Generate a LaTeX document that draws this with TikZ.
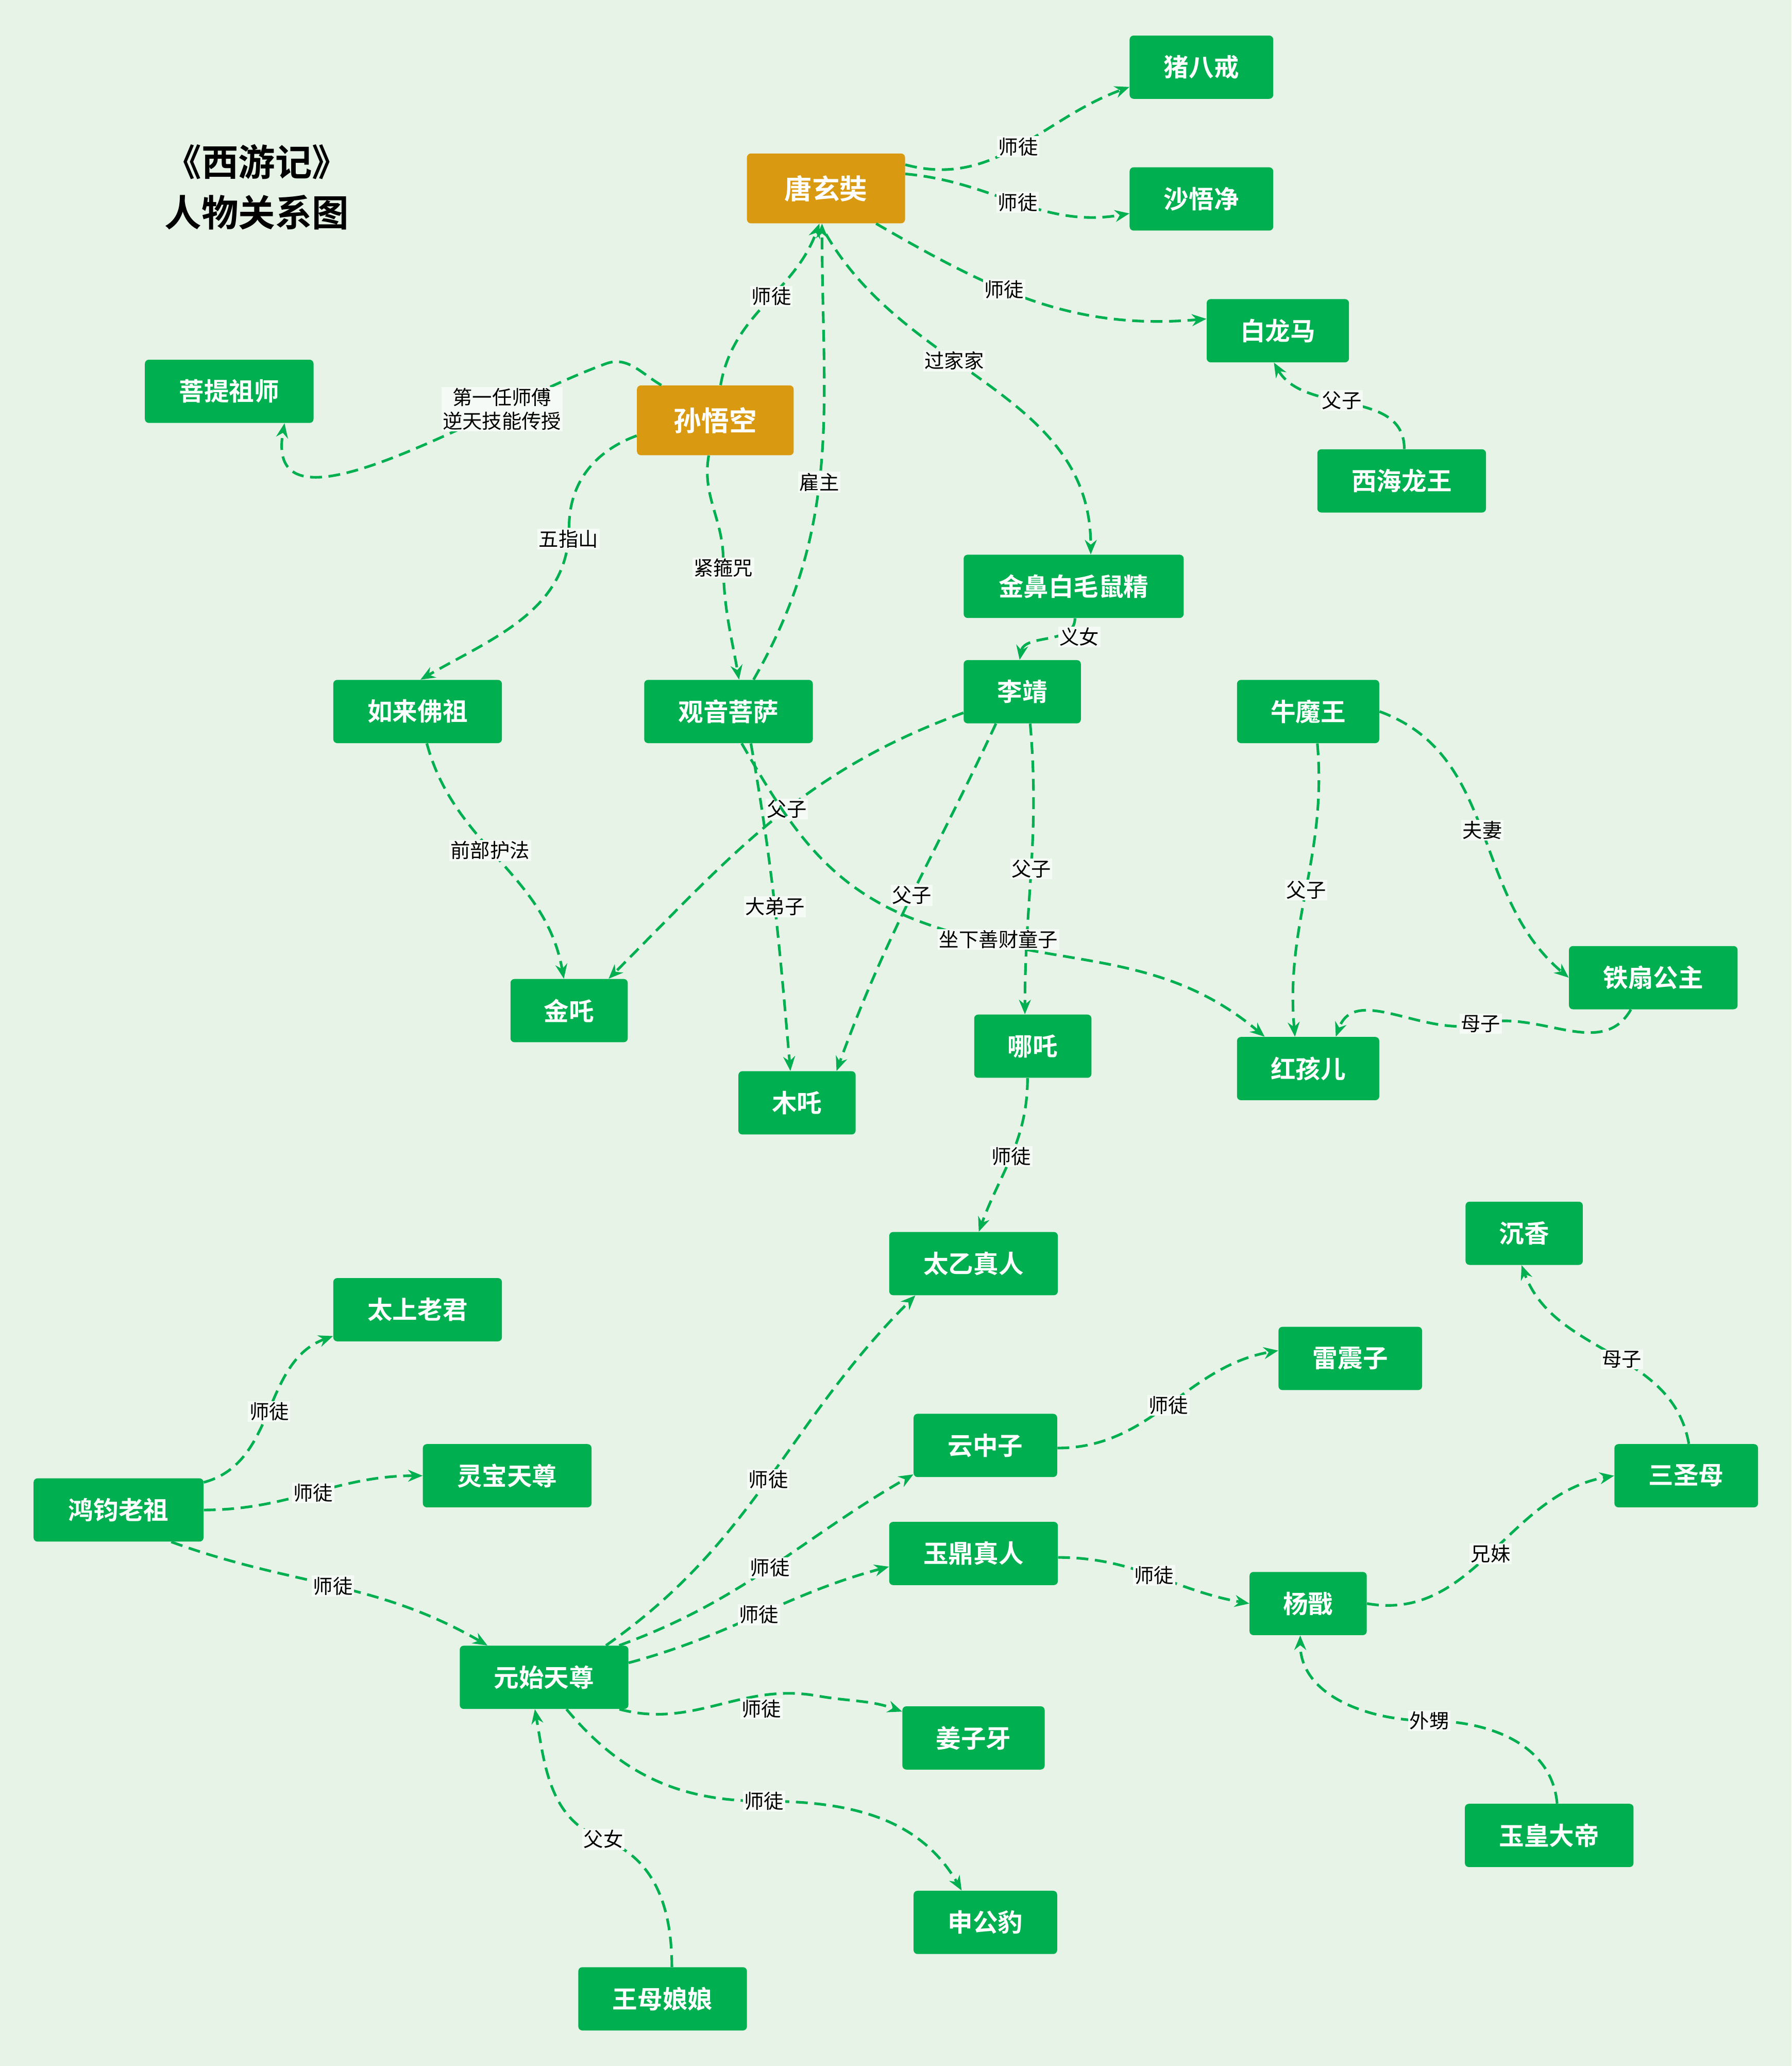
\documentclass[tikz,border=0pt]{standalone}
\usepackage{fontspec}
\newfontfamily\cjk{Noto Sans CJK SC}
\newfontfamily\cjkb{Noto Sans CJK SC Bold}
\usetikzlibrary{arrows.meta}
\definecolor{bg}{HTML}{E8F3E8}
\definecolor{gn}{HTML}{00B050}
\definecolor{og}{HTML}{D99A12}
\tikzset{
 gbox/.style={fill=gn,rounded corners=3pt,text=white,font=\cjkb\fontsize{19}{22}\selectfont,inner sep=0pt},
 obox/.style={fill=og,rounded corners=3pt,text=white,font=\cjkb\fontsize{21}{24}\selectfont,inner sep=0pt,minimum width=120,minimum height=53},
 rel/.style={draw=gn,line width=2pt,dash pattern=on 9pt off 5pt,-{Stealth[length=11pt,width=9pt]}},
 lab/.style={fill=bg!40!white,text=black,font=\cjk\fontsize{15}{18}\selectfont,inner sep=1pt}
}
\begin{document}
\begin{tikzpicture}[x=1pt,y=-1pt]
\fill[bg] (0,0) rectangle (1360,1568);
\useasboundingbox (0,0) rectangle (1360,1568);
\node[font=\cjkb\fontsize{28}{38}\selectfont,align=center] (title) at (195,142) {《西游记》\\人物关系图};
\def\gn#1#2#3#4{\node[gbox,minimum width=#3,minimum height=48] (#1) at #2 {#4};}
\node[obox] (ts) at (627,143) {唐玄奘};
\node[obox,minimum width=119] (sw) at (543,319) {孙悟空};
\gn{zb}{(912,51)}{109}{猪八戒}
\gn{sh}{(912,151)}{109}{沙悟净}
\gn{bl}{(970,251)}{108}{白龙马}
\gn{xh}{(1064,365)}{128}{西海龙王}
\gn{pt}{(174,297)}{128}{菩提祖师}
\gn{js}{(815,445)}{167}{金鼻白毛鼠精}
\gn{lj}{(776,525)}{89}{李靖}
\gn{rl}{(317,540)}{128}{如来佛祖}
\gn{gy}{(553,540)}{128}{观音菩萨}
\gn{nm}{(993,540)}{108}{牛魔王}
\gn{ts2}{(1255,742)}{128}{铁扇公主}
\gn{jz}{(432,767)}{89}{金吒}
\gn{mz}{(605,837)}{89}{木吒}
\gn{nz}{(784,794)}{89}{哪吒}
\gn{hh}{(993,811)}{108}{红孩儿}
\gn{ty}{(739,959)}{128}{太乙真人}
\gn{cx}{(1157,936)}{89}{沉香}
\gn{tl}{(317,994)}{128}{太上老君}
\gn{lz}{(1025,1031)}{109}{雷震子}
\gn{yz}{(748,1097)}{109}{云中子}
\gn{ss}{(1280,1120)}{109}{三圣母}
\gn{hj}{(90,1146)}{129}{鸿钧老祖}
\gn{lb}{(385,1120)}{128}{灵宝天尊}
\gn{yd}{(739,1179)}{128}{玉鼎真人}
\gn{yj}{(993,1217)}{89}{杨戬}
\gn{ys}{(413,1273)}{128}{元始天尊}
\gn{jy}{(739,1319)}{108}{姜子牙}
\gn{yh}{(1176,1393)}{128}{玉皇大帝}
\gn{sg}{(748,1459)}{109}{申公豹}
\gn{wm}{(503,1517)}{128}{王母娘娘}

\draw[rel] ([shift={(0,-18)}]ts.east) to[out=-15,in=200] node[lab]{师徒} ([shift={(0,15)}]zb.west);
\draw[rel] ([shift={(0,-11)}]ts.east) to[out=-5,in=190] node[lab]{师徒} ([shift={(0,11)}]sh.west);
\draw[rel] ([shift={(38,0)}]ts.south) to[out=-30,in=185] node[lab,pos=.4]{师徒} ([shift={(0,-9)}]bl.west);
\draw[rel] ([shift={(0,8)}]ts.south) to[out=-60,in=90] node[lab,pos=.4]{过家家} ([shift={(13,0)}]js.north);
\draw[rel] ([shift={(4,0)}]sw.north) to[out=80,in=-110] node[lab,pos=.55]{师徒} ([shift={(-5,0)}]ts.south);
\draw[rel] ([shift={(19,0)}]gy.north) to[out=60,in=-90] node[lab,pos=.45]{雇主} ([shift={(-3,0)}]ts.south);
\draw[rel] ([shift={(-41,0)}]sw.north) to[out=150,in=20] (460,276) to[out=200,in=-100] node[lab,align=center,pos=.25]{第一任师傅\\逆天技能传授} ([shift={(42,0)}]pt.south);
\draw[rel] ([shift={(0,-15)}]sw.south west) to[out=200,in=90] (432,400) to[out=-90,in=30] node[lab,pos=.05]{五指山} ([shift={(-62,0)}]rl.north east);
\draw[rel] ([shift={(-5,0)}]sw.south) to[out=-100,in=90] (549,425) to[out=-90,in=100] ([shift={(8,0)}]gy.north);
\node[lab] (l9) at (549,431) {紧箍咒};
\draw[rel] ([shift={(1,0)}]js.south) to[out=-90,in=80] node[lab,pos=.4,right]{义女} ([shift={(-2,0)}]lj.north);
\draw[rel] ([shift={(2,0)}]xh.north) to[out=90,in=-60] node[lab,pos=.55]{父子} ([shift={(-3,0)}]bl.south);
\draw[rel] ([shift={(7,0)}]rl.south) to[out=-75,in=100] node[lab,pos=.45]{前部护法} ([shift={(-4,0)}]jz.north);
\draw[rel] ([shift={(0,16)}]lj.west) to[out=200,in=45] node[lab,pos=.45]{父子} ([shift={(30,0)}]jz.north);
\draw[rel] ([shift={(-20,0)}]lj.south) to[out=-115,in=70] node[lab,pos=.5]{父子} ([shift={(30,0)}]mz.north);
\draw[rel] ([shift={(6,0)}]lj.south) to[out=-85,in=90] node[lab,pos=.5]{父子} ([shift={(-6,0)}]nz.north);
\draw[rel] ([shift={(17,0)}]gy.south) to[out=-80,in=95] node[lab,pos=.5]{大弟子} ([shift={(-5,0)}]mz.north);
\draw[rel] ([shift={(10,0)}]gy.south) to[out=-60,in=160] (700,700) to[out=-20,in=140] ([shift={(-33,0)}]hh.north);
\node[lab] (l17) at (758,713) {坐下善财童子};
\draw[rel] ([shift={(7,0)}]nm.south) to[out=-85,in=95] node[lab,pos=.5]{父子} ([shift={(-10,0)}]hh.north);
\draw[rel] ([shift={(0,0)}]nm.east) to[out=-20,in=140] node[lab,pos=.5]{夫妻} ([shift={(0,0)}]ts2.west);
\draw[rel] ([shift={(-17,0)}]ts2.south) to[out=-120,in=15] (1124,777) to[out=195,in=70] ([shift={(21,0)}]hh.north);
\node[lab] (l20) at (1124,777) {母子};
\draw[rel] ([shift={(-4,0)}]nz.south) to[out=-90,in=70] node[lab,pos=.5]{师徒} ([shift={(4,0)}]ty.north);
\draw[rel] ([shift={(2,0)}]ss.north) to[out=100,in=-70] node[lab,pos=.45]{母子} ([shift={(-2,0)}]cx.south);
\draw[rel] ([shift={(0,-21)}]hj.east) to[out=15,in=200] node[lab,pos=.5]{师徒} ([shift={(0,20)}]tl.west);
\draw[rel] (hj.east) to[out=0,in=180] node[lab,pos=.5]{师徒} (lb.west);
\draw[rel] ([shift={(40,0)}]hj.south) to[out=-20,in=150] node[lab,pos=.5]{师徒} ([shift={(-43,0)}]ys.north);
\draw[rel] ([shift={(47,0)}]ys.north) to[out=35,in=225] node[lab,pos=.5]{师徒} ([shift={(20,0)}]ty.south west);
\draw[rel] ([shift={(57,0)}]ys.north) to[out=20,in=210] node[lab,pos=.5]{师徒} ([shift={(0,22)}]yz.west);
\draw[rel] ([shift={(0,-11)}]ys.east) to[out=15,in=195] node[lab,pos=.5]{师徒} ([shift={(0,10)}]yd.west);
\draw[rel] ([shift={(-7,0)}]ys.south east) to[out=-15,in=170] (620,1287) to[out=-10,in=160] ([shift={(0,-20)}]jy.west);
\node[lab] (l29) at (578,1297) {师徒};
\draw[rel] ([shift={(17,0)}]ys.south) to[out=-50,in=180] (580,1367) to[out=0,in=120] ([shift={(-18,0)}]sg.north);
\node[lab] (l30) at (580,1367) {师徒};
\draw[rel] ([shift={(7,0)}]wm.north) to[out=90,in=-20] (458,1396) to[out=160,in=-80] ([shift={(-7,0)}]ys.south);
\node[lab] (l31) at (458,1396) {父女};
\draw[rel] ([shift={(0,2)}]yz.east) to[out=0,in=190] node[lab,pos=.5]{师徒} ([shift={(0,-6)}]lz.west);
\draw[rel] ([shift={(0,3)}]yd.east) to[out=0,in=170] node[lab,pos=.5]{师徒} (yj.west);
\draw[rel] (yj.east) to[out=-10,in=190] node[lab,pos=.5]{兄妹} (ss.west);
\draw[rel] ([shift={(6,0)}]yh.north) to[out=95,in=0] (1085,1306) to[out=180,in=-90] ([shift={(-6,0)}]yj.south);
\node[lab] (l35) at (1085,1306) {外甥};
\end{tikzpicture}
\end{document}
